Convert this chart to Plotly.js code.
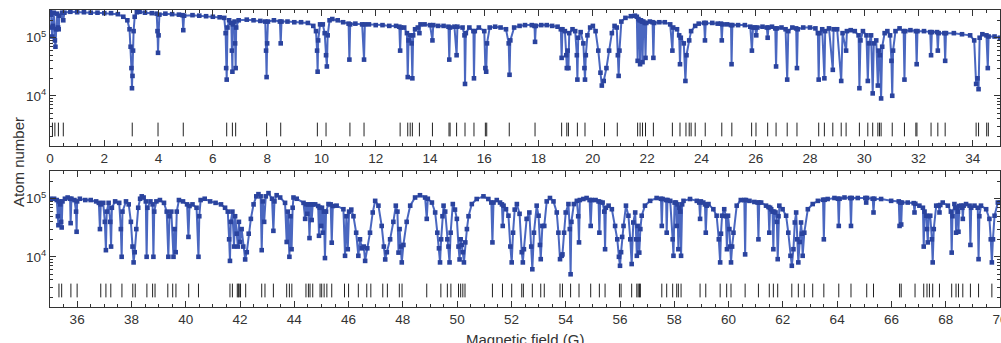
<!DOCTYPE html>
<html><head><meta charset="utf-8">
<script src="https://cdn.plot.ly/plotly-3.0.1.min.js"></script>
<style>html,body{margin:0;padding:0;background:#fff;}#chart{width:1001px;height:343px;}</style>
</head><body><div id="chart"></div>
<script>
// ---- Panel 1 (0-35 G) ----
const field1 = [
 0.00,0.04,0.06,0.08,0.10,0.14,0.18,0.20,0.23,0.26,
 0.30,0.32,0.35,0.45,0.49,0.53,0.75,1.00,1.25,1.50,
 1.75,2.00,2.25,2.50,2.70,2.85,2.93,2.97,3.00,3.02,
 3.04,3.06,3.08,3.12,3.20,3.30,3.50,3.75,3.93,3.96,
 3.98,4.00,4.03,4.25,4.50,4.75,4.88,4.91,4.94,5.25,
 5.50,5.75,6.00,6.25,6.42,6.47,6.49,6.51,6.54,6.60,
 6.68,6.70,6.72,6.74,6.80,6.82,6.84,6.86,6.95,7.25,
 7.50,7.75,7.93,7.96,7.98,8.00,8.03,8.25,8.47,8.50,
 8.53,8.75,9.00,9.25,9.50,9.70,9.80,9.84,9.86,9.88,
 9.95,10.05,10.12,10.17,10.20,10.23,10.30,10.40,10.60,10.80,
 11.00,11.03,11.06,11.25,11.50,11.57,11.60,11.75,12.00,12.25,
 12.50,12.75,12.87,12.90,12.93,13.05,13.15,13.18,13.21,13.27,
 13.32,13.35,13.38,13.45,13.55,13.61,13.65,13.80,14.00,14.09,
 14.12,14.30,14.50,14.68,14.71,14.74,14.90,14.98,15.01,15.20,
 15.27,15.29,15.32,15.45,15.60,15.62,15.65,15.80,16.00,16.04,
 16.07,16.10,16.20,16.40,16.60,16.80,16.90,16.93,16.96,17.10,
 17.30,17.50,17.75,17.85,17.87,17.90,18.10,18.30,18.50,18.70,
 18.82,18.85,18.88,18.97,19.02,19.04,19.07,19.10,19.13,19.25,
 19.35,19.41,19.43,19.46,19.55,19.65,19.69,19.71,19.74,19.80,
 19.90,20.00,20.10,20.20,20.28,20.33,20.40,20.50,20.60,20.70,
 20.80,20.88,20.92,20.95,20.98,21.05,21.20,21.40,21.55,21.62,
 21.65,21.68,21.72,21.74,21.77,21.81,21.83,21.86,21.91,21.94,
 21.97,22.10,22.20,22.23,22.26,22.45,22.65,22.85,22.93,22.96,
 23.10,23.18,23.21,23.24,23.35,23.41,23.45,23.55,23.62,23.77,
 23.90,24.10,24.13,24.16,24.40,24.60,24.72,24.75,24.78,24.95,
 25.09,25.11,25.14,25.35,25.60,25.80,25.86,25.90,25.98,26.02,
 26.06,26.25,26.41,26.44,26.47,26.60,26.72,26.75,26.78,26.95,
 27.10,27.16,27.20,27.35,27.49,27.52,27.55,27.75,28.00,28.20,
 28.29,28.32,28.35,28.45,28.53,28.56,28.70,28.84,28.87,29.00,
 29.15,29.20,29.33,29.36,29.50,29.65,29.79,29.82,29.86,29.95,
 30.08,30.13,30.17,30.25,30.31,30.35,30.44,30.50,30.53,30.57,
 30.62,30.66,30.75,30.85,30.95,31.00,31.03,31.06,31.15,31.30,
 31.45,31.48,31.51,31.70,31.90,31.93,31.96,32.20,32.43,32.46,
 32.49,32.68,32.71,32.74,32.95,32.98,33.01,33.30,33.60,33.90,
 34.05,34.12,34.17,34.21,34.25,34.35,34.50,34.55,34.58,34.80,
 35.00
];
const atoms1 = [
 2.8e5,2.5e5,1.5e5,1.05e5,1.6e5,2.7e5,9e4,7e4,1.4e5,2.6e5,
 1.5e5,1.4e5,2.4e5,2.7e5,2.0e5,2.7e5,2.8e5,2.75e5,2.75e5,2.7e5,
 2.7e5,2.65e5,2.65e5,2.55e5,2.3e5,2.0e5,1.4e5,7e4,3e4,1.35e4,
 2.2e4,6e4,1.3e5,2.3e5,2.75e5,2.8e5,2.7e5,2.65e5,2.6e5,1.3e5,
 5.5e4,1.1e5,2.5e5,2.6e5,2.55e5,2.5e5,2.45e5,1.35e5,2.4e5,2.45e5,
 2.4e5,2.35e5,2.3e5,2.25e5,2.2e5,1.2e5,3e4,1.9e4,1.5e5,2.0e5,
 1.8e5,6e4,2.6e4,1.7e5,1.9e5,8e4,3e4,1.5e5,2.0e5,2.05e5,
 2.0e5,1.95e5,1.9e5,6e4,2.1e4,8e4,1.9e5,2.0e5,1.9e5,8e4,
 1.9e5,1.9e5,1.85e5,1.85e5,1.8e5,1.6e5,1.3e5,6e4,2.6e4,9e4,
 1.7e5,1.7e5,1.2e5,5e4,3.2e4,1.1e5,2.0e5,2.1e5,2.0e5,1.85e5,
 1.75e5,4.2e4,1.7e5,1.75e5,1.7e5,4.2e4,1.7e5,1.7e5,1.65e5,1.65e5,
 1.6e5,1.6e5,1.55e5,6e4,1.5e5,1.5e5,1.2e5,2.1e4,9e4,1.1e5,
 8e4,2.0e4,1.1e5,1.4e5,1.5e5,1.2e5,1.7e5,1.7e5,1.65e5,9e4,
 1.65e5,1.6e5,1.6e5,1.55e5,4.2e4,1.5e5,1.55e5,5e4,1.55e5,1.5e5,
 1.1e5,1.6e4,1.2e5,1.5e5,1.3e5,2.0e4,1.3e5,1.5e5,1.3e5,3e4,
 2.6e4,8e4,1.5e5,1.55e5,1.5e5,1.4e5,8e4,2.3e4,9e4,1.5e5,
 1.6e5,1.65e5,1.65e5,1.6e5,8.5e4,1.6e5,1.65e5,1.65e5,1.6e5,1.55e5,
 1.4e5,4.5e4,1.4e5,1.3e5,5e4,3e4,6e4,3e4,1.2e5,1.4e5,
 1.3e5,5e4,1.9e4,1.0e5,1.25e5,8e4,3e4,1.9e4,5e4,1.1e5,
 1.5e5,1.6e5,1.3e5,6e4,2.5e4,1.5e4,1.8e4,3e4,6e4,1.2e5,
 1.6e5,1.5e5,5e4,2.2e4,6e4,1.9e5,2.2e5,2.35e5,2.4e5,2.3e5,
 4e4,2.1e5,2.0e5,3.5e4,2.0e5,1.9e5,3.8e4,1.9e5,1.8e5,4.5e4,
 1.8e5,1.9e5,1.85e5,4.5e4,1.8e5,1.85e5,1.85e5,1.7e5,6e4,1.5e5,
 1.4e5,1.1e5,3.5e4,1.0e5,8e4,1.8e4,5e4,9e4,1.3e5,1.6e5,
 1.75e5,1.8e5,9e4,1.8e5,1.8e5,1.75e5,1.75e5,9e4,1.7e5,1.7e5,
 1.65e5,3.5e4,1.65e5,1.65e5,1.65e5,1.55e5,6e4,1.5e5,1.5e5,1.1e5,
 1.5e5,1.55e5,1.5e5,1.0e5,1.5e5,1.55e5,1.45e5,3.2e4,1.45e5,1.5e5,
 1.4e5,1.9e4,1.3e5,1.5e5,1.45e5,3e4,1.4e5,1.5e5,1.5e5,1.45e5,
 1.2e5,1.9e4,1.2e5,1.4e5,2e4,1.3e5,1.45e5,2.8e4,1.4e5,1.4e5,
 1.8e4,1.2e5,6e4,1.3e5,1.35e5,1.3e5,1.1e5,1.35e4,9e4,1.3e5,
 1.1e5,1.8e4,8e4,1.1e5,1.1e4,8e4,9e4,1.5e4,6e4,5e4,
 9e3,7e4,1.2e5,1.3e5,1.1e5,4e4,1e4,6e4,1.3e5,1.45e5,
 1.3e5,1.9e4,1.3e5,1.35e5,1.3e5,3.5e4,1.3e5,1.3e5,1.25e5,5e4,
 1.25e5,1.25e5,6e4,1.2e5,1.2e5,4e4,1.2e5,1.2e5,1.15e5,1.1e5,
 9e4,1.6e4,2e4,1.3e4,1.0e5,1.15e5,1.1e5,3e4,1.05e5,1.05e5,
 1.0e5
];
const resonances1 = [0.09,0.18,0.31,0.49,3.03,3.98,4.91,6.51,6.72,6.84,7.98,8.5,9.85,10.17,11.05,11.57,12.9,13.18,13.27,13.35,13.61,14.09,14.70,14.74,14.98,15.29,15.62,16.04,16.09,16.92,17.87,18.85,19.04,19.1,19.43,19.71,20.43,20.9,21.65,21.74,21.83,21.94,22.23,22.93,23.21,23.43,23.55,23.62,23.77,24.14,24.75,25.12,25.85,26.01,26.44,26.75,27.16,27.52,28.32,28.53,28.84,29.15,29.33,29.82,30.13,30.31,30.5,30.56,30.62,31.03,31.48,31.9,31.94,32.46,32.71,32.98,34.12,34.21,34.51,34.57];

// ---- Panel 2 (35-70 G) ----
const field2 = [
 35.00,35.15,35.25,35.29,35.31,35.34,35.38,35.41,35.43,35.46,
 35.55,35.65,35.74,35.76,35.79,35.90,35.96,35.98,36.00,36.10,
 36.30,36.50,36.70,36.80,36.84,36.87,36.96,37.02,37.06,37.09,
 37.16,37.22,37.25,37.28,37.40,37.55,37.61,37.64,37.67,37.80,
 37.90,37.98,38.04,38.08,38.12,38.18,38.25,38.32,38.38,38.45,
 38.53,38.56,38.59,38.70,38.78,38.81,38.84,38.92,39.05,39.20,
 39.30,39.36,39.40,39.47,39.55,39.59,39.63,39.67,39.75,39.90,
 40.05,40.10,40.14,40.25,40.40,40.47,40.50,40.55,40.70,40.90,
 41.10,41.30,41.45,41.55,41.60,41.63,41.66,41.72,41.78,41.82,
 41.88,41.92,41.96,42.00,42.06,42.12,42.19,42.25,42.32,42.40,
 42.50,42.60,42.68,42.76,42.80,42.84,42.89,42.95,43.05,43.18,
 43.23,43.27,43.35,43.48,43.66,43.72,43.76,43.82,43.86,43.90,
 43.94,43.97,44.09,44.34,44.40,44.44,44.48,44.52,44.56,44.60,
 44.64,44.68,44.77,44.88,44.91,44.94,44.99,45.02,45.05,45.09,
 45.13,45.17,45.26,45.34,45.38,45.42,45.56,45.81,45.87,45.92,
 45.97,46.02,46.10,46.18,46.28,46.36,46.42,46.49,46.56,46.61,
 46.69,46.79,46.89,46.98,47.10,47.22,47.30,47.35,47.41,47.53,
 47.65,47.74,47.80,47.84,47.88,47.93,47.96,48.02,48.14,48.27,
 48.45,48.63,48.82,48.88,48.92,49.07,49.19,49.27,49.33,49.37,
 49.41,49.46,49.50,49.56,49.64,49.68,49.72,49.76,49.84,49.92,
 49.99,50.05,50.09,50.13,50.17,50.21,50.25,50.30,50.36,50.42,
 50.54,50.72,50.97,51.15,51.26,51.30,51.34,51.46,51.58,51.65,
 51.68,51.71,51.80,51.89,51.96,52.01,52.06,52.12,52.20,52.30,
 52.38,52.42,52.46,52.56,52.66,52.73,52.77,52.83,52.93,53.00,
 53.05,53.08,53.14,53.21,53.30,53.42,53.55,53.67,53.73,53.79,
 53.85,53.88,53.94,54.00,54.10,54.15,54.18,54.21,54.30,54.41,
 54.46,54.49,54.52,54.65,54.77,54.88,54.92,54.96,55.10,55.21,
 55.24,55.27,55.36,55.42,55.45,55.48,55.58,55.70,55.82,55.90,
 55.96,56.00,56.04,56.08,56.13,56.22,56.31,56.38,56.43,56.49,
 56.56,56.60,56.62,56.65,56.68,56.71,56.75,56.80,56.92,57.11,
 57.35,57.51,57.54,57.57,57.70,57.72,57.75,57.85,57.94,57.97,
 58.01,58.06,58.09,58.12,58.15,58.19,58.22,58.25,58.29,58.34,
 58.58,58.83,58.92,58.95,58.98,59.07,59.13,59.16,59.20,59.26,
 59.44,59.56,59.64,59.69,59.72,59.76,59.84,59.90,59.94,59.98,
 60.03,60.06,60.09,60.13,60.18,60.30,60.45,60.58,60.61,60.64,
 60.77,60.95,61.07,61.10,61.13,61.20,61.38,61.47,61.50,61.53,
 61.57,61.62,61.65,61.68,61.73,61.78,61.81,61.84,61.87,61.99,
 62.12,62.20,62.28,62.33,62.39,62.44,62.49,62.53,62.57,62.62,
 62.67,62.70,62.73,62.79,62.92,63.10,63.29,63.48,63.51,63.54,
 63.65,63.90,64.03,64.06,64.09,64.27,64.48,64.51,64.54,64.76,
 65.04,65.07,65.10,65.31,65.34,65.37,65.62,65.99,66.27,66.30,
 66.33,66.36,66.39,66.60,66.82,66.85,66.88,67.03,67.16,67.19,
 67.22,67.28,67.31,67.34,67.37,67.43,67.49,67.52,67.56,67.65,
 67.74,67.77,67.80,67.89,68.08,68.19,68.22,68.25,68.32,68.36,
 68.38,68.41,68.45,68.47,68.50,68.57,68.61,68.63,68.66,68.75,
 68.88,68.91,68.94,69.06,69.18,69.21,69.24,69.30,69.49,69.61,
 69.66,69.70,69.74,69.80,69.92,70.00
];
const atoms2 = [
 1.0e5,1.0e5,9.5e4,5e4,3.5e4,9e4,8e4,4e4,3.2e4,9e4,
 1.0e5,1.05e5,1.0e5,3.8e4,1.0e5,9.5e4,6e4,2.7e4,9e4,1.0e5,
 9.5e4,9.5e4,9e4,8.5e4,3e4,8e4,8.5e4,4e4,1.3e4,6e4,
 8.5e4,4e4,1.5e4,7e4,9e4,8.5e4,3e4,1.0e4,6e4,9e4,
 8e4,4e4,1.5e4,8e3,1.2e4,3e4,7e4,1.0e5,1.1e5,1.05e5,
 9e4,1.0e4,7e4,9e4,8e4,1.0e4,6e4,9e4,9.5e4,8.5e4,
 6e4,1.0e4,5e4,6e4,1.0e4,3e4,1.2e4,6e4,9.5e4,9e4,
 8e4,2.2e4,7.5e4,8e4,7e4,1.0e4,5e4,9.5e4,1.0e5,9e4,
 8.5e4,8e4,7e4,6e4,2e4,8.5e3,4e4,6e4,1.5e4,5e4,
 2.5e4,1.5e4,4e4,1.8e4,3e4,1.5e4,9e3,1.2e4,2.5e4,4.5e4,
 8e4,1.1e5,1.2e5,1.1e5,1.3e4,9e4,4e4,1.1e5,1.25e5,1.0e5,
 2.8e4,9e4,1.15e5,1.05e5,8.5e4,1.8e4,6e4,1.0e4,5e4,1.35e4,
 7e4,1.05e5,1.0e5,8.5e4,4.5e4,8e4,5.5e4,8e4,2.1e4,8e4,
 4.3e4,8e4,8e4,7.5e4,2.3e4,7e4,3.4e4,7e4,2.6e4,6e4,
 9.5e3,6e4,8.1e4,8e4,1.75e4,7.5e4,7.6e4,6.6e4,1.04e4,5e4,
 1.35e4,6e4,6.5e4,5e4,2.6e4,1.04e4,2e4,1.4e4,1.5e4,8.5e3,
 1.4e4,2.6e4,5.8e4,9.2e4,7.6e4,3.4e4,1.5e4,9e3,1.2e4,2e4,
 4e4,7.6e4,6e4,1.18e4,3e4,1.5e4,8e3,1.6e4,4e4,7.6e4,
 1.05e5,1.15e5,1.05e5,4.5e4,1.0e5,8.6e4,5.8e4,2.6e4,1.4e4,8e3,
 2e4,5e4,7.6e4,6e4,2e4,1.5e4,8e3,2.6e4,8.1e4,6.5e4,
 4.5e4,1.5e4,9e3,2e4,1.6e4,1.2e4,8e3,1.77e4,3e4,5e4,
 8.1e4,9.9e4,1.1e5,9.9e4,8.6e4,1.77e4,8.6e4,9.5e4,8.6e4,8e4,
 3.4e4,7.6e4,6.6e4,5.1e4,1.5e4,8e3,2.6e4,6.5e4,8.1e4,5.5e4,
 1.2e4,8e3,1.35e4,4.5e4,5.8e4,1.5e4,6.1e3,2.6e4,7.6e4,5.1e4,
 1.6e4,9.1e3,3.4e4,3.4e4,9e4,1.03e5,9e4,5.8e4,2.6e4,9.1e3,
 1.04e4,1.1e4,2.6e4,5.8e4,8.1e4,3e4,5e3,4e4,8.1e4,9.2e4,
 5e4,1.77e4,9.5e4,9.9e4,1.03e5,9.5e4,3.4e4,9.5e4,9.5e4,9e4,
 2.6e4,8.8e4,8.6e4,6e4,1.35e4,7e4,7.6e4,6.6e4,3.4e4,2e4,
 1e4,7e3,1.2e4,2.2e4,3.4e4,7.6e4,5.1e4,2e4,7.5e3,3.9e4,
 5.8e4,2e4,1.04e4,3.4e4,2e4,1.18e4,3e4,5.1e4,7.6e4,9.2e4,
 1.03e5,1.0e5,3.4e4,9.9e4,9.5e4,2.6e4,9.5e4,9.2e4,2e4,1.04e4,
 8.6e4,8.6e4,3.4e4,8e4,1.35e4,7e4,6e4,1.04e4,8e4,9.2e4,
 9.9e4,9.2e4,8.6e4,4.5e4,9e4,8.6e4,8e4,2.6e4,7.6e4,8.1e4,
 6.6e4,5.1e4,2e4,8e3,2.5e4,5.1e4,6.6e4,5e4,1.35e4,5.1e4,
 3e4,1.5e4,8e3,1.5e4,2.6e4,7.6e4,9.5e4,9.5e4,1.1e4,9.5e4,
 9.2e4,8.8e4,8.6e4,2e4,8.6e4,8.6e4,7.6e4,7.2e4,2.6e4,7e4,
 6.6e4,6e4,1.35e4,6e4,5.8e4,4e4,9.1e3,5e4,7.6e4,6.6e4,
 5.1e4,2.6e4,1.04e4,7e3,1.35e4,3.9e4,5.8e4,2e4,8e3,1.8e4,
 3.9e4,2.5e4,1.04e4,2.6e4,6.6e4,8.1e4,9.2e4,9.6e4,2e4,9.6e4,
 9.9e4,1.03e5,1.0e5,3.4e4,1.0e5,1.05e5,1.03e5,3.4e4,1.03e5,1.03e5,
 1.03e5,8.6e4,1.03e5,1.0e5,5.8e4,1.0e5,9.9e4,9.2e4,9e4,3.4e4,
 8.6e4,3.6e4,8.6e4,8.6e4,8.4e4,5.8e4,8.2e4,7.6e4,7e4,1.5e4,
 6e4,5.1e4,3e4,1.77e4,5e4,5.1e4,2e4,8e3,3e4,7.6e4,
 7.6e4,5.8e4,7.8e4,8.6e4,7.6e4,6e4,1.18e4,5e4,8.1e4,7e4,
 2.6e4,7e4,6e4,2.7e4,7.5e4,7.6e4,7e4,4.5e4,7.6e4,8.1e4,
 7.6e4,1.6e4,7e4,7.6e4,7e4,9.1e3,5e4,7.6e4,6.6e4,4.5e4,
 2e4,8e3,2e4,5.1e4,8.6e4,8.6e4
];
const resonances2 = [35.33,35.43,35.77,36.0,36.87,37.06,37.24,37.65,38.05,38.14,38.57,38.78,38.87,39.34,39.52,39.64,40.11,40.47,41.63,41.72,41.9,41.94,41.97,42.02,42.21,42.8,42.92,43.23,43.72,43.82,43.91,44.43,44.52,44.58,44.68,44.95,45.01,45.1,45.2,45.38,45.85,46.0,46.36,46.67,46.82,47.26,47.43,47.87,47.97,48.88,49.4,49.64,49.77,50.05,50.13,50.21,50.29,51.3,51.67,52.01,52.38,52.44,52.77,53.08,53.21,53.79,53.88,54.18,54.49,54.92,55.24,55.45,55.98,56.04,56.43,56.62,56.67,56.72,56.75,57.54,57.72,57.94,58.09,58.15,58.25,58.95,59.16,59.69,59.93,60.09,60.61,61.1,61.5,61.65,61.81,62.33,62.57,62.79,63.1,63.51,64.06,64.51,65.09,65.34,66.3,66.36,66.87,67.19,67.31,67.4,67.52,67.77,68.22,68.38,68.47,68.63,68.91,69.21,69.7];

const tickLow = 2000, tickHigh = 3450;
const yTickVals = [1e4, 1e5];
const yTickText = ['10<sup>4</sup>', '10<sup>5</sup>'];
const yMinorVals = [2e3,3e3,4e3,5e3,6e3,7e3,8e3,9e3,2e4,3e4,4e4,5e4,6e4,7e4,8e4,9e4,2e5,3e5];

function segs(list){
  const xs=[], ys=[];
  list.forEach(v=>{xs.push(v,v,null); ys.push(tickLow,tickHigh,null);});
  return {xs, ys};
}
const s1 = segs(resonances1), s2 = segs(resonances2);

const markStyle = {symbol:'square', size:4.6, color:'#2a439e', line:{width:0}};
const lineStyle = {color:'#4a67c0', width:2};
const font = {family:'"Liberation Sans", Arial, Helvetica, sans-serif', size:13.5, color:'#333'};

const traces = [
  {x:field1, y:atoms1, xaxis:'x', yaxis:'y', mode:'lines+markers', marker:markStyle, line:lineStyle, hoverinfo:'skip'},
  {x:s1.xs, y:s1.ys, xaxis:'x', yaxis:'y', mode:'lines', line:{color:'#222', width:1}, hoverinfo:'skip'},
  {x:field2, y:atoms2, xaxis:'x2', yaxis:'y2', mode:'lines+markers', marker:markStyle, line:lineStyle, hoverinfo:'skip'},
  {x:s2.xs, y:s2.ys, xaxis:'x2', yaxis:'y2', mode:'lines', line:{color:'#222', width:1}, hoverinfo:'skip'}
];

function xax(range, anchor){
  return {domain:[0,1], range:range, anchor:anchor, tick0:0, dtick:2,
    ticks:'inside', ticklen:6, tickwidth:1, tickcolor:'#333',
    showline:true, linecolor:'#333', linewidth:1, mirror:'ticks',
    ticklabeloverflow:'allow',
    minor:{dtick:0.5, ticks:'inside', ticklen:3, tickcolor:'#333', showgrid:false},
    showgrid:false, zeroline:false, tickfont:font};
}
function yax(domain, anchor){
  return {domain:domain, anchor:anchor, type:'log', range:[3.135, 5.478],
    tickvals:yTickVals, ticktext:yTickText,
    ticks:'inside', ticklen:6, tickwidth:1, tickcolor:'#333',
    showline:true, linecolor:'#333', linewidth:1, mirror:'ticks',
    minor:{tickvals:yMinorVals, ticks:'inside', ticklen:3, tickcolor:'#333', showgrid:false},
    showgrid:false, zeroline:false, tickfont:font};
}

const layout = {
  width:1001, height:343,
  margin:{l:50, r:1, t:10, b:36},
  paper_bgcolor:'#fff', plot_bgcolor:'#fff',
  showlegend:false,
  font:font,
  xaxis: xax([0,35],'y'),
  yaxis: yax([0.5421,1],'x'),
  xaxis2: xax([35,70],'y2'),
  yaxis2: yax([0,0.4579],'x2'),
  annotations:[
    {text:'Atom number', xref:'paper', yref:'paper', x:-0.0337, y:0.488, textangle:-90,
     showarrow:false, xanchor:'center', yanchor:'middle', font:{family:font.family, size:15, color:'#333'}},
    {text:'Magnetic field (G)', xref:'paper', yref:'paper', x:0.5, y:-0.108,
     showarrow:false, xanchor:'center', yanchor:'middle', font:{family:font.family, size:15, color:'#333'}}
  ]
};

Plotly.newPlot('chart', traces, layout, {staticPlot:true, displayModeBar:false});
</script>
</body></html>
